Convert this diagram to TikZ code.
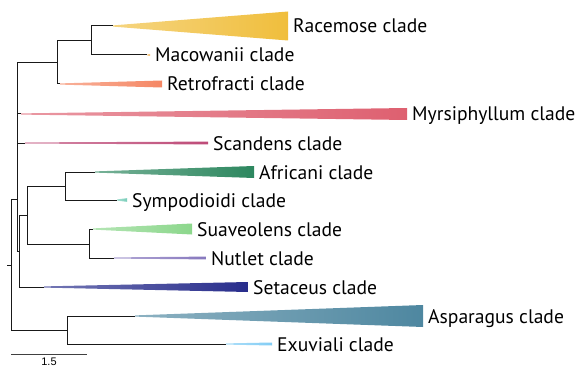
\documentclass[tikz,border=0pt]{standalone}
\usepackage{fontspec}
\setmainfont{PT Sans}
\newfontfamily\barfont{Liberation Sans}
\definecolor{racemose}{RGB}{240,190,60}
\definecolor{macowanii}{RGB}{245,190,110}
\definecolor{retrofracti}{RGB}{245,135,100}
\definecolor{myrsiphyllum}{RGB}{222,96,112}
\definecolor{scandens}{RGB}{190,75,120}
\definecolor{africani}{RGB}{45,135,95}
\definecolor{sympodioidi}{RGB}{120,205,185}
\definecolor{suaveolens}{RGB}{140,215,140}
\definecolor{nutlet}{RGB}{135,120,190}
\definecolor{setaceus}{RGB}{40,45,140}
\definecolor{asparagus}{RGB}{78,135,160}
\definecolor{exuviali}{RGB}{130,205,245}
\tikzset{
    branch/.style={draw=black!90, line width=1pt},
    cladelabel/.style={anchor=base west, inner sep=0pt, font=\fontsize{19.6}{22}\selectfont},
    scalebar/.style={draw=black!75, line width=0.9pt}
}

\begin{document}
\begin{tikzpicture}[x=1pt, y=-1pt]
    \useasboundingbox (0,0) rectangle (579,369);
    \coordinate (root) at (11,265);
    \coordinate (nB) at (17,199);
    \coordinate (nA) at (57,63);
    \coordinate (nA1) at (91,41);
    \coordinate (nC) at (19,251);
    \coordinate (nD) at (27,215);
    \coordinate (nE) at (65,186);
    \coordinate (nF) at (89,244);
    \coordinate (nG) at (67,330);
    \foreach \name/\y/\xa/\xb/\h/\txt in {
        racemose/26/113/288/14.5/Racemose clade,
        macowanii/55/147/150/1/Macowanii clade,
        retrofracti/84/60/162/3.5/Retrofracti clade,
        myrsiphyllum/114/21/407/6/Myrsiphyllum clade,
        scandens/143/25/208/1.4/Scandens clade,
        africani/172/95/254/6/Africani clade,
        sympodioidi/200/117/127/1.8/Sympodioidi clade,
        suaveolens/229/93/192/5.5/Suaveolens clade,
        nutlet/258/114/206/1.4/Nutlet clade,
        setaceus/287/44/248/5/Setaceus clade,
        asparagus/316/135/423/11/Asparagus clade,
        exuviali/344/226/272/1.5/Exuviali clade}
    {
        \coordinate (\name) at (\xa,\y);
        \shade[left color=\name!65, right color=\name] (\xa,{\y-0.6}) -- (\xb,{\y-\h}) -- (\xb,{\y+\h}) -- (\xa,{\y+0.6}) -- cycle;
        \node[cladelabel] (\name-label) at ({\xb+5},{\y+7}) {\txt};
    }
    \draw[branch] (root) -- ++(-4,0);
    \draw[branch] (root) |- (nB);
    \draw[branch] (root) |- (nG);
    \draw[branch] (nB) |- (nA);
    \draw[branch] (nB) |- (myrsiphyllum);
    \draw[branch] (nB) |- (scandens);
    \draw[branch] (nB) |- (nC);
    \draw[branch] (nA) |- (nA1);
    \draw[branch] (nA) |- (retrofracti);
    \draw[branch] (nA1) |- (racemose);
    \draw[branch] (nA1) |- (macowanii);
    \draw[branch] (nC) |- (nD);
    \draw[branch] (nC) |- (setaceus);
    \draw[branch] (nD) |- (nE);
    \draw[branch] (nD) |- (nF);
    \draw[branch] (nE) |- (africani);
    \draw[branch] (nE) |- (sympodioidi);
    \draw[branch] (nF) |- (suaveolens);
    \draw[branch] (nF) |- (nutlet);
    \draw[branch] (nG) |- (asparagus);
    \draw[branch] (nG) |- (exuviali);
    \coordinate (bar-l) at (11,354);
    \coordinate (bar-r) at (87,354);
    \draw[scalebar] (bar-l) -- node[below=3.5pt, inner sep=0pt, font=\barfont\fontsize{11}{13}\selectfont] (bar-label) {1.5} (bar-r);
\end{tikzpicture}
\end{document}
